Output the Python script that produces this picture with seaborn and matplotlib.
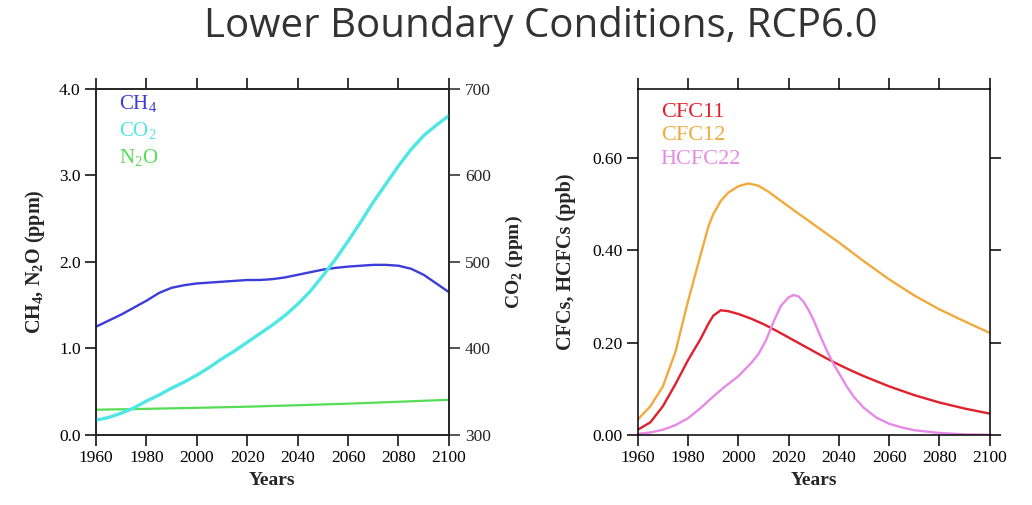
import numpy as np
import pandas as pd
import matplotlib
matplotlib.use("Agg")
import matplotlib.pyplot as plt
import seaborn as sns

# ---- data ----
ch4_years = [1960, 1965, 1970, 1975, 1980, 1985, 1990, 1995, 2000, 2005, 2010, 2015,
             2020, 2025, 2030, 2035, 2040, 2045, 2050, 2055, 2060, 2065, 2070, 2075,
             2080, 2085, 2090, 2095, 2100]
ch4_ppm = [1.25, 1.32, 1.39, 1.47, 1.55, 1.64, 1.70, 1.73, 1.75, 1.76, 1.77, 1.78,
           1.79, 1.79, 1.80, 1.82, 1.85, 1.88, 1.91, 1.93, 1.945, 1.955, 1.965, 1.965,
           1.955, 1.92, 1.85, 1.75, 1.65]

co2_years = [1960, 1965, 1970, 1975, 1980, 1985, 1990, 1995, 2000, 2005, 2010, 2015,
             2020, 2025, 2030, 2035, 2040, 2045, 2050, 2055, 2060, 2065, 2070, 2075,
             2080, 2085, 2090, 2095, 2100]
co2_ppm = [317, 320, 325, 331, 339, 346, 354, 361, 369, 378, 388, 397,
           407, 417, 427, 438, 451, 466, 484, 503, 524, 546, 569, 590,
           611, 630, 646, 658, 669]

n2o_years = [1960, 1980, 2000, 2020, 2040, 2060, 2080, 2100]
n2o_ppm = [0.290, 0.300, 0.312, 0.325, 0.342, 0.360, 0.382, 0.405]

cfc11_years = [1960, 1965, 1970, 1975, 1980, 1985, 1988, 1990, 1993, 1996, 2000, 2005,
               2010, 2015, 2020, 2025, 2030, 2035, 2040, 2045, 2050, 2055, 2060, 2070,
               2080, 2090, 2100]
cfc11 = [0.011, 0.027, 0.062, 0.110, 0.162, 0.208, 0.240, 0.258, 0.270, 0.268, 0.262, 0.252,
         0.240, 0.226, 0.211, 0.196, 0.181, 0.166, 0.152, 0.139, 0.127, 0.116, 0.105, 0.086,
         0.070, 0.057, 0.046]

cfc12_years = [1960, 1965, 1970, 1975, 1980, 1985, 1988, 1990, 1993, 1996, 2000, 2004,
               2008, 2012, 2016, 2020, 2030, 2040, 2050, 2060, 2070, 2080, 2090, 2100]
cfc12 = [0.033, 0.062, 0.105, 0.180, 0.290, 0.390, 0.450, 0.478, 0.507, 0.525, 0.539, 0.545,
         0.540, 0.527, 0.511, 0.495, 0.456, 0.417, 0.376, 0.337, 0.302, 0.272, 0.246, 0.221]

hcfc22_years = [1960, 1965, 1970, 1975, 1980, 1985, 1990, 1995, 2000, 2005, 2008, 2011,
                2014, 2017, 2020, 2022, 2024, 2026, 2028, 2030, 2032, 2035, 2038, 2040,
                2043, 2046, 2050, 2055, 2060, 2065, 2070, 2080, 2090, 2100]
hcfc22 = [0.002, 0.005, 0.011, 0.021, 0.036, 0.058, 0.083, 0.106, 0.127, 0.155, 0.175, 0.205,
          0.245, 0.280, 0.298, 0.303, 0.300, 0.288, 0.270, 0.248, 0.222, 0.185, 0.152, 0.134,
          0.106, 0.082, 0.058, 0.037, 0.024, 0.016, 0.010, 0.004, 0.001, 0.000]

year_ticks = list(range(1960, 2101, 20))

sns.set_theme(style="ticks")
plt.rcParams["font.family"] = ["Liberation Serif", "DejaVu Serif"]
plt.rcParams["axes.linewidth"] = 1.1

c_ch4 = "#3c3cd8"
c_co2 = "#4fe6e6"
c_n2o = "#55dd55"
c_cfc11 = "#e0202c"
c_cfc12 = "#f2aa3c"
c_hcfc = "#e68ae6"

fig = plt.figure(figsize=(10.32, 5.05), dpi=100)
ax1 = fig.add_axes([0.093, 0.139, 0.342, 0.685])
ax3 = fig.add_axes([0.618, 0.139, 0.341, 0.685])


def style_years(ax):
    ax.set_xlim(1960, 2100)
    ax.set_xticks(year_ticks)
    ax.set_xlabel("Years", fontsize=14, fontweight="bold", labelpad=4)
    ax.tick_params(axis="both", direction="out", length=8, width=1.1,
                   labelsize=12.5, top=True, pad=3, colors="black")
    ax.tick_params(axis="x", labeltop=False)
    for s in ax.spines.values():
        s.set_visible(True)
        s.set_color("black")


# ---- left panel ----
sns.lineplot(x=ch4_years, y=ch4_ppm, ax=ax1, color=c_ch4, lw=1.7)
sns.lineplot(x=n2o_years, y=n2o_ppm, ax=ax1, color=c_n2o, lw=1.6)
ax1.set_ylim(0, 4.0)
ax1.set_yticks([0, 1, 2, 3, 4])
ax1.set_yticklabels(["0.0", "1.0", "2.0", "3.0", "4.0"])
ax1.set_ylabel(r"CH$_\mathregular{4}$, N$_\mathregular{2}$O (ppm)",
               fontsize=14.5, fontweight="bold", labelpad=9)
style_years(ax1)
ax1.tick_params(axis="y", right=False)

ax2 = ax1.twinx()
sns.lineplot(x=co2_years, y=co2_ppm, ax=ax2, color=c_co2, lw=2.4)
ax2.set_ylim(300, 700)
ax2.set_yticks([300, 400, 500, 600, 700])
ax2.set_ylabel(r"CO$_\mathregular{2}$ (ppm)", fontsize=14, fontweight="bold", labelpad=9)
ax2.tick_params(axis="y", direction="out", length=8, width=1.1, labelsize=12.5)

for i, (lbl, col) in enumerate([(r"CH$_\mathregular{4}$", c_ch4),
                                 (r"CO$_\mathregular{2}$", c_co2),
                                 (r"N$_\mathregular{2}$O", c_n2o)]):
    ax1.text(0.065, 0.955 - i * 0.078, lbl, color=col, fontsize=15,
             transform=ax1.transAxes, va="center", ha="left")

# ---- right panel ----
sns.lineplot(x=cfc11_years, y=cfc11, ax=ax3, color=c_cfc11, lw=1.7)
sns.lineplot(x=cfc12_years, y=cfc12, ax=ax3, color=c_cfc12, lw=1.7)
sns.lineplot(x=hcfc22_years, y=hcfc22, ax=ax3, color=c_hcfc, lw=1.7)
ax3.set_ylim(0, 0.75)
ax3.set_yticks([0, 0.2, 0.4, 0.6])
ax3.set_yticklabels(["0.00", "0.20", "0.40", "0.60"])
ax3.set_ylabel("CFCs, HCFCs (ppb)", fontsize=14.5, fontweight="bold", labelpad=12)
style_years(ax3)
ax3.tick_params(axis="y", right=True)

for i, (lbl, col) in enumerate([("CFC11", c_cfc11), ("CFC12", c_cfc12),
                                 ("HCFC22", c_hcfc)]):
    ax3.text(0.065, 0.931 - i * 0.067, lbl, color=col, fontsize=16,
             transform=ax3.transAxes, va="center", ha="left")

fig.text(0.524, 0.947, "Lower Boundary Conditions, RCP6.0", ha="center", va="center",
         fontsize=29, family="Open Sans", color="#333333")

fig.savefig("out.png", dpi=100)
